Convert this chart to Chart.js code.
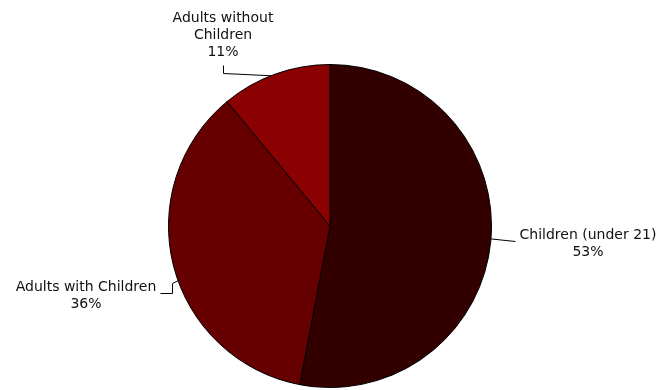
<!DOCTYPE html>
<html>
<head>
<meta charset="utf-8">
<script src="https://cdn.jsdelivr.net/npm/chart.js@4"></script>
<style>
  body { margin: 0; background: #fff; }
  #wrap { width: 660px; height: 390px; }
</style>
</head>
<body>
<div id="wrap"><canvas id="pie"></canvas></div>
<script>
// slice data, clockwise from 12 o'clock
const categories = ['Children (under 21)', 'Adults with Children', 'Adults without Children'];
const labelLines = [['Children (under 21)'], ['Adults with Children'], ['Adults without', 'Children']];
const shares = [53, 36, 11];
const sliceColors = ['#330000', '#660000', '#8b0000'];

// label placement, offsets from the pie centre (px); leader ends on the rim at `rim` degrees
const labelLayout = [
    { text: [258, 9], leader: [[185, 15]], rim: 94.6 },
    { text: [-244, 61], leader: [[-170, 67], [-158, 67], [-158, 57]], rim: 250.2 },
    { text: [-107, -208], leader: [[-107, -161], [-107, -153]], rim: 338.5 }
];

const pieLabels = {
    id: 'pieLabels',
    afterDraw(chart) {
        const ctx = chart.ctx;
        const meta = chart.getDatasetMeta(0);
        const arc = meta.data[0];
        const cx = arc.x, cy = arc.y, r = arc.outerRadius;
        const total = shares.reduce((a, b) => a + b, 0);
        ctx.save();
        ctx.font = '14px "DejaVu Sans", Verdana, sans-serif';
        ctx.fillStyle = '#111';
        ctx.strokeStyle = '#000';
        ctx.lineWidth = 1;
        ctx.textAlign = 'center';
        ctx.textBaseline = 'middle';
        labelLayout.forEach((lay, i) => {
            // leader line
            const a = lay.rim * Math.PI / 180;
            ctx.beginPath();
            lay.leader.forEach((p, k) => {
                const x = Math.round(cx + p[0]) + 0.5, y = Math.round(cy + p[1]) + 0.5;
                if (k === 0) ctx.moveTo(x, y); else ctx.lineTo(x, y);
            });
            ctx.lineTo(cx + Math.sin(a) * r, cy - Math.cos(a) * r);
            ctx.stroke();
            // text
            const lines = labelLines[i].concat([Math.round(shares[i] / total * 100) + '%']);
            lines.forEach((t, k) => {
                ctx.fillText(t, cx + lay.text[0], cy + lay.text[1] + k * 17);
            });
        });
        ctx.restore();
    }
};

new Chart(document.getElementById('pie').getContext('2d'), {
    type: 'pie',
    data: {
        labels: categories,
        datasets: [{
            data: shares,
            backgroundColor: sliceColors,
            borderColor: '#000',
            borderWidth: 1
        }]
    },
    options: {
        responsive: true,
        maintainAspectRatio: false,
        animation: false,
        layout: { padding: { top: 64, bottom: 2, left: 168, right: 168 } },
        plugins: { legend: { display: false }, tooltip: { enabled: false } }
    },
    plugins: [pieLabels]
});
</script>
</body>
</html>
